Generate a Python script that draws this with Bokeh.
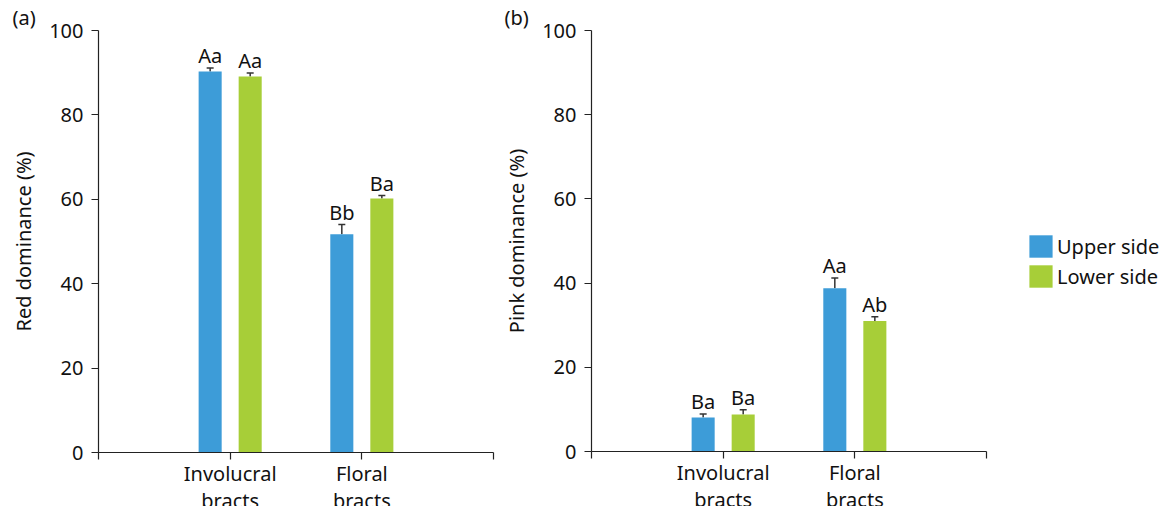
from bokeh.plotting import figure
from bokeh.models import (Range1d, FixedTicker, Whisker, TeeHead, ColumnDataSource,
                          Legend, LegendItem)
from bokeh.layouts import row
from bokeh.core.properties import value
from bokeh.embed import file_html
from bokeh.resources import INLINE

# ---------------- data ----------------
categories = ["Involucral\nbracts", "Floral\nbracts"]
series = ["Upper side", "Lower side"]

red_upper = [90.3, 51.7]
red_upper_err = [0.8, 2.3]
red_upper_letters = ["Aa", "Bb"]
red_lower = [89.1, 60.2]
red_lower_err = [0.8, 0.7]
red_lower_letters = ["Aa", "Ba"]

pink_upper = [8.1, 38.8]
pink_upper_err = [0.8, 2.4]
pink_upper_letters = ["Ba", "Aa"]
pink_lower = [8.8, 31.0]
pink_lower_err = [1.1, 1.0]
pink_lower_letters = ["Ba", "Ab"]

y_ticks = [0, 20, 40, 60, 80, 100]

BLUE = "#3d9cd8"
GREEN = "#a7ce38"
FONT = "Noto Sans"
FS = "20px"


def make_panel(upper, upper_err, upper_let, lower, lower_err, lower_let,
               ylabel, panel_label, title_offset, border_left, border_top, frame_h,
               border_right):
    p = figure(frame_width=395, frame_height=frame_h,
               x_range=Range1d(0, len(categories) + 1), y_range=Range1d(0, 100),
               output_backend="svg", toolbar_location=None,
               min_border_left=border_left, min_border_right=border_right,
               min_border_top=border_top, min_border_bottom=60)
    p.outline_line_color = None
    p.grid.visible = False
    p.background_fill_color = "white"
    p.border_fill_color = "white"

    renderers = []
    for vals, errs, lets, off, col in ((upper, upper_err, upper_let, -0.152, BLUE),
                                       (lower, lower_err, lower_let, 0.152, GREEN)):
        xs = [i + 1 + off for i in range(len(categories))]
        src = ColumnDataSource(dict(x=xs, top=vals,
                                    upper=[v + e for v, e in zip(vals, errs)],
                                    letters=lets))
        r = p.vbar(x="x", top="top", width=0.175, bottom=0, source=src,
                   fill_color=col, line_color=None)
        renderers.append(r)
        w = Whisker(base="x", lower="top", upper="upper", source=src,
                    line_color="#333333", line_width=1.5, lower_head=None,
                    upper_head=TeeHead(size=7, line_color="#333333", line_width=1.5))
        p.add_layout(w)
        p.text(x="x", y="upper", text="letters", source=src, text_align="center",
               text_baseline="bottom", y_offset=1,
               text_font=value(FONT), text_font_size=FS, text_color="#111111")

    # axes
    p.yaxis.ticker = FixedTicker(ticks=y_ticks)
    p.xaxis.ticker = FixedTicker(ticks=list(range(len(categories) + 2)))
    overrides = {0: "", len(categories) + 1: ""}
    for i, c in enumerate(categories):
        overrides[i + 1] = c
    p.xaxis.major_label_overrides = overrides
    for ax in (p.xaxis, p.yaxis):
        ax.axis_line_color = "#222222"
        ax.axis_line_width = 1.2
        ax.major_tick_line_color = "#222222"
        ax.major_tick_line_width = 1.2
        ax.major_tick_out = 7
        ax.major_tick_in = 0
        ax.minor_tick_line_color = None
        ax.major_label_text_font = FONT
        ax.major_label_text_font_size = FS
        ax.major_label_text_color = "#111111"
    p.xaxis.major_label_text_line_height = 1.0
    p.xaxis.major_label_standoff = 0
    p.yaxis.major_label_standoff = 8
    p.yaxis.axis_label = ylabel
    p.yaxis.axis_label_text_font = FONT
    p.yaxis.axis_label_text_font_size = FS
    p.yaxis.axis_label_text_font_style = "normal"
    p.yaxis.axis_label_text_color = "#111111"
    p.yaxis.axis_label_standoff = 9

    p.title.text = panel_label
    p.title.align = "left"
    p.title.offset = title_offset
    p.title.standoff = 0
    p.title.text_font = FONT
    p.title.text_font_size = FS
    p.title.text_font_style = "normal"
    p.title.text_color = "#111111"
    return p, renderers


p1, _ = make_panel(red_upper, red_upper_err, red_upper_letters,
                   red_lower, red_lower_err, red_lower_letters,
                   "Red dominance (%)", "(a)", -86, 98, 30, 422, 7)
p2, rends = make_panel(pink_upper, pink_upper_err, pink_upper_letters,
                       pink_lower, pink_lower_err, pink_lower_letters,
                       "Pink dominance (%)", "(b)", -87, 90, 29, 421, 167)

legend = Legend(items=[LegendItem(label=s, renderers=[r]) for s, r in zip(series, rends)],
                location=(40, 161), glyph_width=29, glyph_height=28,
                label_text_font=FONT, label_text_font_size=FS,
                label_text_color="#111111", label_standoff=2, spacing=2,
                padding=0, margin=0, border_line_color=None,
                background_fill_alpha=0)
p2.add_layout(legend, "right")

layout = row(p1, p2)
open("out.html", "w").write(file_html(layout, INLINE))
